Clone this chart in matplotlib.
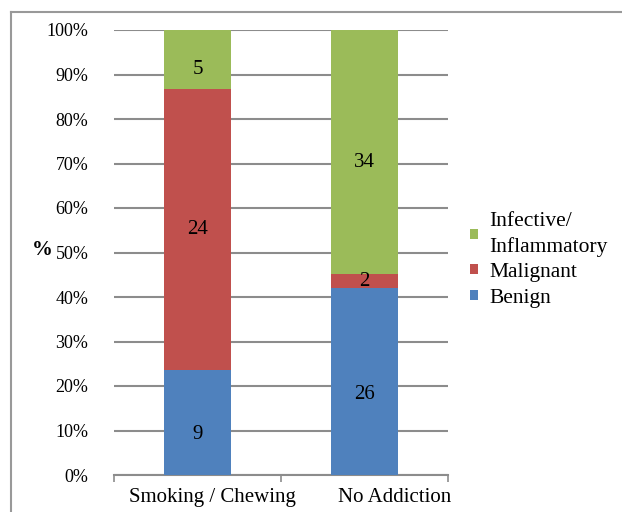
import matplotlib
matplotlib.use("Agg")
import matplotlib.pyplot as plt
from matplotlib.lines import Line2D
import numpy as np

categories = ["Smoking / Chewing", "No Addiction"]
benign = [9, 26]
malignant = [24, 2]
infective = [5, 34]
series_names = ["Benign", "Malignant", "Infective/\nInflammatory"]
colors = ["#4F81BD", "#C0504D", "#9BBB59"]
yticks = [0, 10, 20, 30, 40, 50, 60, 70, 80, 90, 100]

plt.rcParams['font.family'] = ['Liberation Serif', 'DejaVu Serif']

fig = plt.figure(figsize=(6.22, 5.12), dpi=100)
W, H = 622, 512
ax = fig.add_axes([114 / W, 1 - 475 / H, (448 - 114) / W, (475 - 30) / H])

data = np.array([benign, malignant, infective], dtype=float)
totals = data.sum(axis=0)
pct = data / totals * 100
x = np.array([0.5, 1.5])
width = 0.4
label_dy = [-9, 0, -7.5]  # label offsets in points per series (style)
bottom = np.zeros(len(categories))
bars = []
for i in range(3):
    b = ax.bar(x, pct[i], width, bottom=bottom, color=colors[i], zorder=3)
    bars.append(b)
    for j in range(len(categories)):
        ax.annotate(str(int(data[i][j])), (x[j], bottom[j] + pct[i][j] / 2),
                    xytext=(0, label_dy[i]), textcoords='offset points',
                    ha='center', va='center', fontsize=15, zorder=4)
    bottom += pct[i]

ax.set_xlim(0, 2)
ax.set_ylim(0, 100)
ax.set_yticks(yticks)
ax.set_yticklabels([f"{v}%" for v in yticks], fontsize=13)
ax.yaxis.grid(True, color='#8c8c8c', linewidth=1.5, zorder=0)
ax.set_axisbelow(True)
ax.tick_params(axis='y', length=0, pad=18.5)
ax.set_xticks([0, 1, 2])
ax.set_xticklabels([])
ax.tick_params(axis='x', which='major', length=5, color='#8c8c8c', width=1.2)
cat_dx = [10.5, 22]  # category label horizontal offsets in points (style)
for j, c in enumerate(categories):
    ax.annotate(c, (x[j], 0), xycoords=('data', 'axes fraction'),
                xytext=(cat_dx[j], -16), textcoords='offset points',
                ha='center', va='center', fontsize=15)
for s in ['top', 'right', 'left']:
    ax.spines[s].set_visible(False)
ax.spines['bottom'].set_color('#8c8c8c')
ax.spines['bottom'].set_linewidth(1.5)

fig.text(42 / W, 1 - 250 / H, "%", fontsize=15, fontweight='bold', ha='center', va='center')

handles = [bars[2], bars[1], bars[0]]
labels = [series_names[2], series_names[1], series_names[0]]
leg = fig.legend(handles, labels, loc='center left', bbox_to_anchor=(470 / W, 1 - 260 / H),
                 frameon=False, fontsize=15.5, handlelength=0.35, handleheight=0.35,
                 handletextpad=0.55, labelspacing=0.3, borderaxespad=0, borderpad=0)
for t in leg.get_texts():
    t.set_linespacing(1.35)

# figure border (top and left)
fig.add_artist(Line2D([11 / W, 11 / W], [0, 1 - 12 / H], transform=fig.transFigure,
                      color='#999999', linewidth=1.5))
fig.add_artist(Line2D([11 / W, 1], [1 - 12 / H, 1 - 12 / H], transform=fig.transFigure,
                      color='#999999', linewidth=1.5))

fig.savefig("out.png", dpi=100)
